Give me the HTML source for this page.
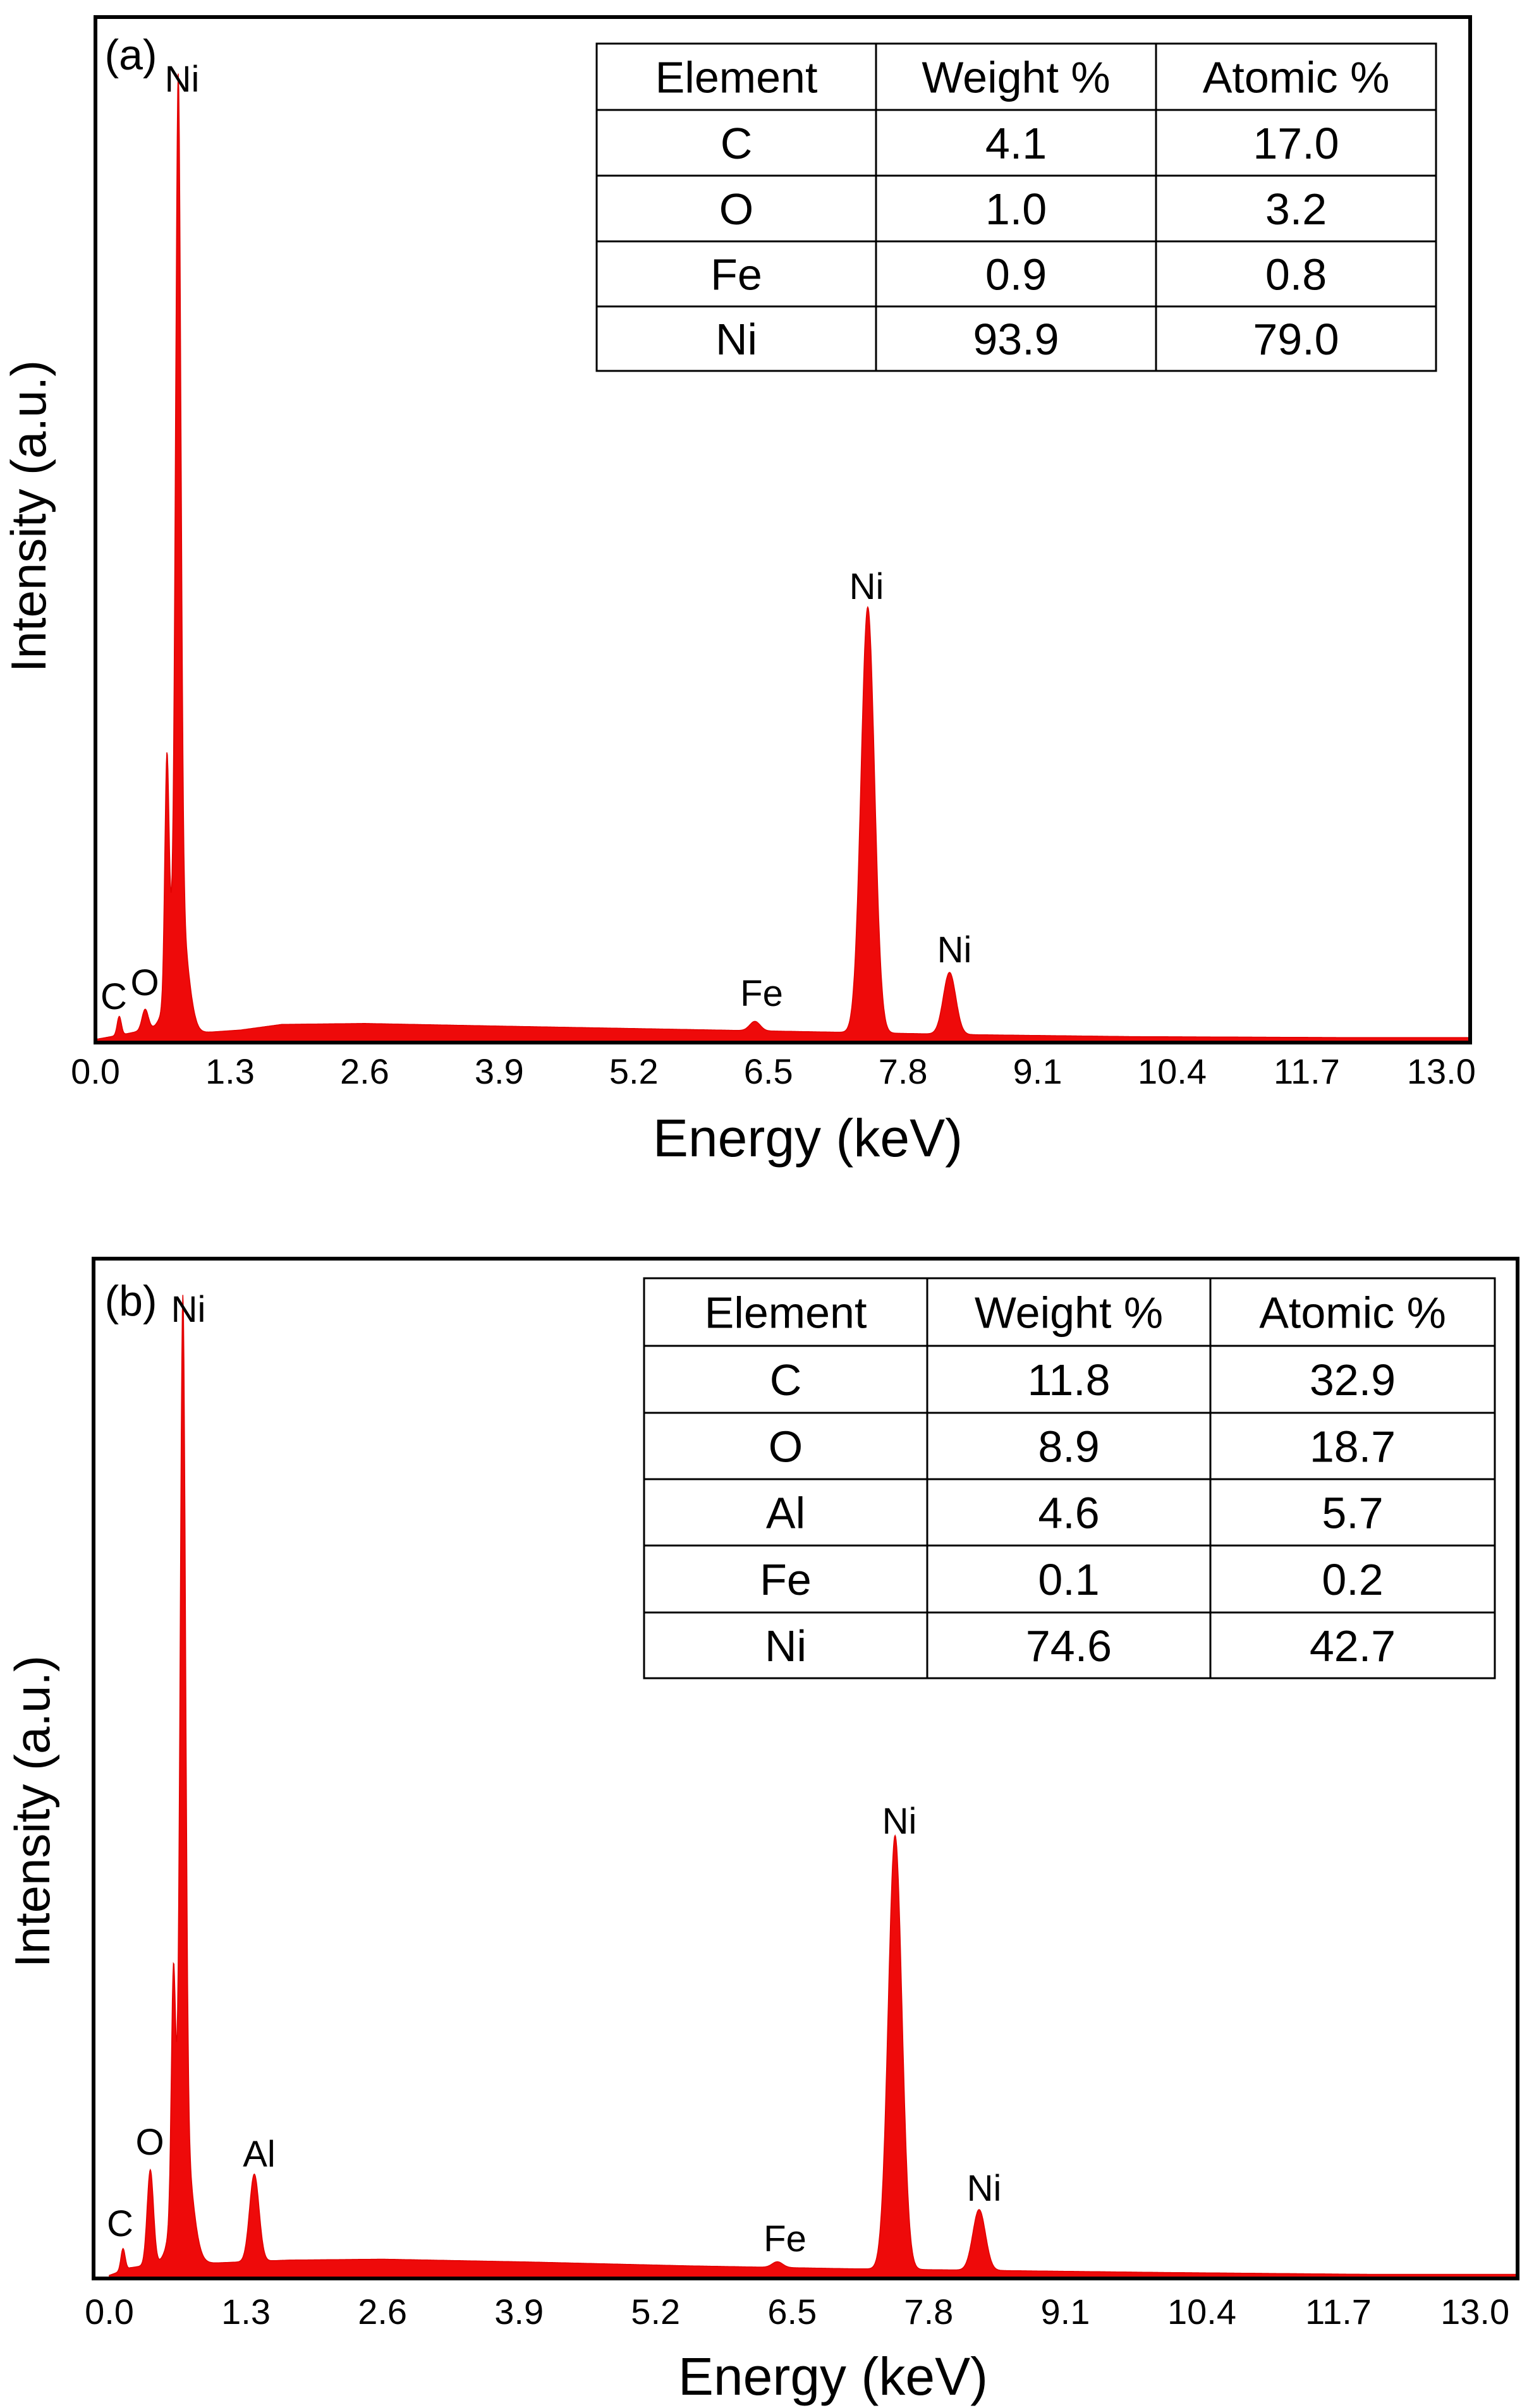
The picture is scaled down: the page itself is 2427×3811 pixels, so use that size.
<!DOCTYPE html>
<html><head><meta charset="utf-8"><style>
body{margin:0;background:#fff;width:2427px;height:3811px;overflow:hidden}
svg{position:absolute;left:0;top:0}
text{font-family:"Liberation Sans",sans-serif}
</style></head><body>
<svg id="s" width="2427" height="3811"></svg>
<script>
// Panel (a) data
const aPeakE=[0.23,0.48,0.69,0.80,0.80,6.37,7.46,8.25];
const aPeakI=[2.0,2.2,24,88,14,1.0,45.4,6.6];
const aPeakW=[0.02,0.03,0.02,0.025,0.08,0.05,0.065,0.06];
const aBgE=[0,0.3,0.6,1.0,1.4,1.8,2.6,4,5.5,7,8.5,10,12,13.5];
const aBgI=[0.2,0.8,1.5,0.9,1.2,1.8,1.9,1.6,1.3,1.0,0.7,0.5,0.4,0.4];
const aElem=["C","O","Fe","Ni"],aWt=["4.1","1.0","0.9","93.9"],aAt=["17.0","3.2","0.8","79.0"];
// Panel (b) data
const bPeakE=[0.13,0.39,0.61,0.70,0.70,1.38,6.36,7.48,8.28];
const bPeakI=[2.3,10,24,88,14,9.2,0.6,45.7,6.4];
const bPeakW=[0.02,0.03,0.02,0.025,0.08,0.045,0.05,0.065,0.06];
const bBgE=[0,0.2,0.5,1.0,1.7,2.6,4,5.5,7,8.5,10,12,13.5];
const bBgI=[0.2,1.0,1.5,1.5,1.8,1.9,1.6,1.2,0.9,0.7,0.5,0.3,0.3];
const bElem=["C","O","Al","Fe","Ni"],bWt=["11.8","8.9","4.6","0.1","74.6"],bAt=["32.9","18.7","5.7","0.2","42.7"];
const ticks=["0.0","1.3","2.6","3.9","5.2","6.5","7.8","9.1","10.4","11.7","13.0"];
const tickE=[0,1.3,2.6,3.9,5.2,6.5,7.8,9.1,10.4,11.7,13.0];

const S=document.getElementById('s');const NS="http://www.w3.org/2000/svg";
function mk(t,a,p){const e=document.createElementNS(NS,t);for(const k in a)e.setAttribute(k,a[k]);(p||S).appendChild(e);return e;}
function txt(x,y,s,size,name,anchor,extra){const t=mk('text',Object.assign({x:x,y:y,'font-size':size,'text-anchor':anchor||'middle'},extra||{}));t.textContent=s;


return t;}
function interp(E,xs,ys){for(let i=0;i<xs.length-1;i++){if(E<=xs[i+1]){const f=(E-xs[i])/(xs[i+1]-xs[i]);return ys[i]+f*(ys[i+1]-ys[i]);}}return ys[ys.length-1];}
function panel(P){
 const g=mk('g',{});
 
 
 const X=e=>P.x0+e*P.kx, Y=i=>P.y0-i*P.ky;
 const eMax=(P.fr-P.x0)/P.kx;
 let d="M"+X(0)+","+P.fb;
 for(let e=0;e<=eMax;e+=0.005){let v=interp(e,P.bgE,P.bgI);for(let k=0;k<P.pe.length;k++){const z=(e-P.pe[k])/P.pw[k];v+=P.pi[k]*Math.exp(-0.5*z*z);}
  d+=" L"+X(e).toFixed(1)+","+Math.min(Y(v),P.fb).toFixed(1);}
 d+=" L"+X(eMax)+","+P.fb+" Z";
 const sp=mk('path',{d:d,fill:'#ee0a0a',stroke:'#e00000','stroke-width':1.5},g);
 
 
 const fr=mk('rect',{x:P.fl,y:P.ft,width:P.fr-P.fl,height:P.fb-P.ft,fill:'none',stroke:'#000','stroke-width':6},g);
 
 
 tickE.forEach((e,i)=>{txt(X(e),P.ty,ticks[i],56,'x-tick-label');});
 txt(P.xtx,P.xty,'Energy (keV)',84,'x-axis-title');
 txt(P.ytx,P.yty,'Intensity (a.u.)',78,'y-axis-title','middle',{transform:`rotate(-90 ${P.ytx} ${P.yty})`});
 P.labels.forEach(l=>txt(l[0],l[1],l[2],l[3]||58,'peak-label'));
 const cx=P.tx,cy=P.ty2;
 mk('rect',{x:cx[0],y:cy[0],width:cx[3]-cx[0],height:cy[cy.length-1]-cy[0],fill:'#fff',stroke:'#000','stroke-width':3},g);
 cy.slice(1,-1).forEach(y=>mk('line',{x1:cx[0],x2:cx[3],y1:y,y2:y,stroke:'#000','stroke-width':3},g));
 cx.slice(1,-1).forEach(x=>mk('line',{x1:x,x2:x,y1:cy[0],y2:cy[cy.length-1],stroke:'#000','stroke-width':3},g));
 const rows=[["Element","Weight %","Atomic %"]];P.el.forEach((e,i)=>rows.push([e,P.wt[i],P.at[i]]));
 rows.forEach((r,ri)=>r.forEach((c,ci)=>txt((cx[ci]+cx[ci+1])/2,(cy[ri]+cy[ri+1])/2+25,c,70,'table-cell')));
}
panel({name:'panel-a',x0:151,kx:163.8,y0:1648,ky:14.84,fl:151,fr:2326,ft:27,fb:1650,pe:aPeakE,pi:aPeakI,pw:aPeakW,bgE:aBgE,bgI:aBgI,
 ty:1715,xtx:1278,xty:1830,ytx:72,yty:817,
 labels:[[207,110,'(a)',68],[288,145,'Ni'],[1371,948,'Ni'],[1510,1523,'Ni'],[1205,1592,'Fe'],[180,1597,'C'],[229,1575,'O']],
 tx:[944,1386,1829,2272],ty2:[69,174,278,382,485,587],el:aElem,wt:aWt,at:aAt});
panel({name:'panel-b',x0:173,kx:166.2,y0:3604,ky:15.02,fl:148,fr:2401,ft:1992,fb:3606,pe:bPeakE,pi:bPeakI,pw:bPeakW,bgE:bBgE,bgI:bBgI,
 ty:3678,xtx:1318,xty:3790,ytx:78,yty:2867,
 labels:[[207,2082,'(b)',68],[298,2092,'Ni'],[1423,2902,'Ni'],[1557,3483,'Ni'],[410,3429,'Al'],[237,3410,'O'],[190,3539,'C'],[1242,3563,'Fe']],
 tx:[1019,1467,1915,2365],ty2:[2023,2130,2236,2341,2446,2552,2656],el:bElem,wt:bWt,at:bAt});
</script>
</body></html>
